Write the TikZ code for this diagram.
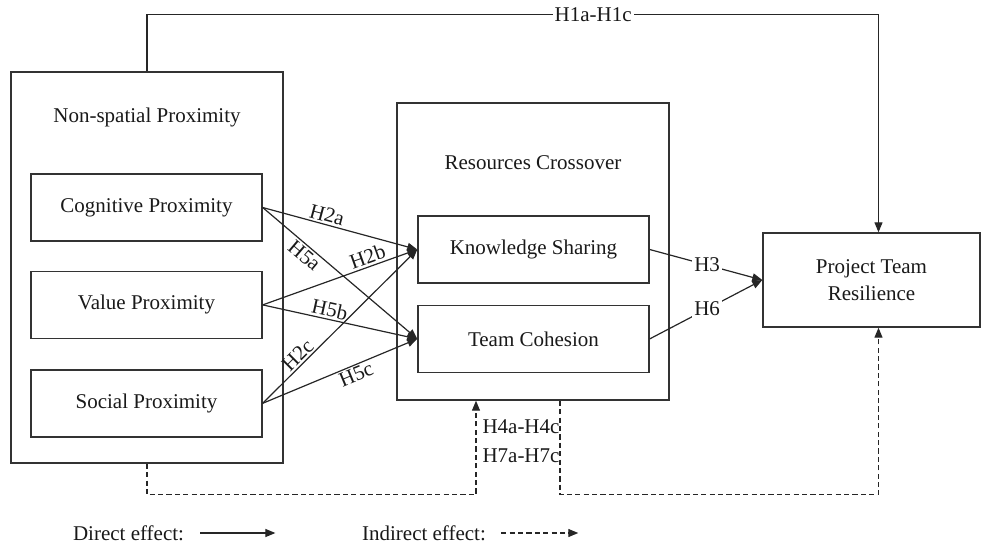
\documentclass[tikz,border=0pt]{standalone}
\usepackage{fontspec}
\setmainfont{Liberation Serif}
\usetikzlibrary{arrows.meta, positioning}

\begin{document}
\begin{tikzpicture}[
        x=0.5pt, y=-0.5pt,
        font=\fontsize{10.5}{13.5}\selectfont,
        % Boxes
        outerbox/.style={
                rectangle,
                draw=black!80,
                line width=0.7pt,
                inner sep=0pt
            },
        innerbox/.style={
                rectangle,
                draw=black!80,
                line width=0.7pt,
                minimum width=115.5pt,
                minimum height=33.5pt,
                text=black!90
            },
        hyp/.style={
                font=\fontsize{10.5}{12}\selectfont,
                inner sep=1pt,
                text=black!90
            },
        % Arrows
        arrow/.style={
                -{Triangle[length=5pt,width=4pt]},
                line width=0.6pt,
                color=black!85
            },
        dasharrow/.style={
                arrow,
                dash pattern=on 2.6pt off 1.6pt
            }
    ]

    \useasboundingbox (0,0) rectangle (982,548);

    % NON-SPATIAL PROXIMITY (left)
    \node[outerbox, minimum width=136pt, minimum height=195.5pt] (nsp) at (147,267.5) {};
    \node[text=black!90] (nsptitle) at (147,117) {Non-spatial Proximity};
    \node[innerbox] (cog) at (146.5,207.5) {Cognitive Proximity};
    \node[innerbox, below=14.5pt of cog] (val) {Value Proximity};
    \node[innerbox, below=15pt of val] (soc) {Social Proximity};

    % RESOURCES CROSSOVER (middle)
    \node[outerbox, minimum width=136pt, minimum height=148.5pt] (rc) at (533,251.5) {};
    \node[text=black!90] (rctitle) at (533,163) {Resources Crossover};
    \node[innerbox] (ks) at (533.5,249.5) {Knowledge Sharing};
    \node[innerbox, below=10.5pt of ks] (tc) {Team Cohesion};

    % PROJECT TEAM RESILIENCE (right)
    \node[innerbox, minimum width=108.5pt, minimum height=47pt, align=center] (ptr) at (871.5,280) {Project Team\\Resilience};

    % ARROWS TO RESOURCES
    \draw[arrow] (cog.east) -- node[hyp, sloped, above, pos=0.40] {H2a} (ks.west);
    \draw[arrow] (cog.east) -- node[hyp, sloped, below, pos=0.31] {H5a} (tc.west);
    \draw[arrow] (val.east) -- node[hyp, sloped, above, pos=0.70] {H2b} (ks.west);
    \draw[arrow] (val.east) -- node[hyp, sloped, above, pos=0.42] {H5b} (tc.west);
    \draw[arrow] (soc.east) -- node[hyp, sloped, above, pos=0.27] {H2c} (ks.west);
    \draw[arrow] (soc.east) -- node[hyp, sloped, below, pos=0.58] {H5c} (tc.west);

    % ARROWS TO RESILIENCE
    \draw[arrow] (ks.east) -- node[hyp, fill=white, pos=0.51] {H3} (ptr.west);
    \draw[arrow] (tc.east) -- node[hyp, fill=white, pos=0.51] {H6} (ptr.west);

    % DIRECT PATH (top)
    \coordinate (ptrtop) at ([xshift=3.5pt]ptr.north);
    \draw[arrow] (nsp.north) -- ++(0,-57) coordinate (tl)
        -- node[hyp, fill=white, pos=0.61] {H1a-H1c} (tl -| ptrtop) -- (ptrtop);

    % INDIRECT PATHS (bottom)
    \coordinate (rcin) at ([xshift=-28.5pt]rc.south);
    \coordinate (rcout) at ([xshift=13.5pt]rc.south);
    \coordinate (ptrbot) at ([xshift=3.5pt]ptr.south);
    \draw[dasharrow] (nsp.south) -- ++(0,31) -| (rcin);
    \draw[dasharrow] (rcout) -- ++(0,94) -| (ptrbot);
    \node[hyp] (h4) at (521,427) {H4a-H4c};
    \node[hyp] (h7) at (521,456) {H7a-H7c};

    % LEGEND
    \node[inner sep=0pt, text=black!90] (direct) at (128.5,533) {Direct effect:};
    \node[inner sep=0pt, text=black!90] (indirect) at (424,533) {Indirect effect:};
    \coordinate (d1) at ([xshift=8pt]direct.east);
    \coordinate (d2) at ([xshift=45.5pt]direct.east);
    \coordinate (i1) at ([xshift=7.5pt]indirect.east);
    \coordinate (i2) at ([xshift=46pt]indirect.east);
    \draw[arrow] (d1) -- (d2);
    \draw[dasharrow] (i1) -- (i2);

\end{tikzpicture}
\end{document}
